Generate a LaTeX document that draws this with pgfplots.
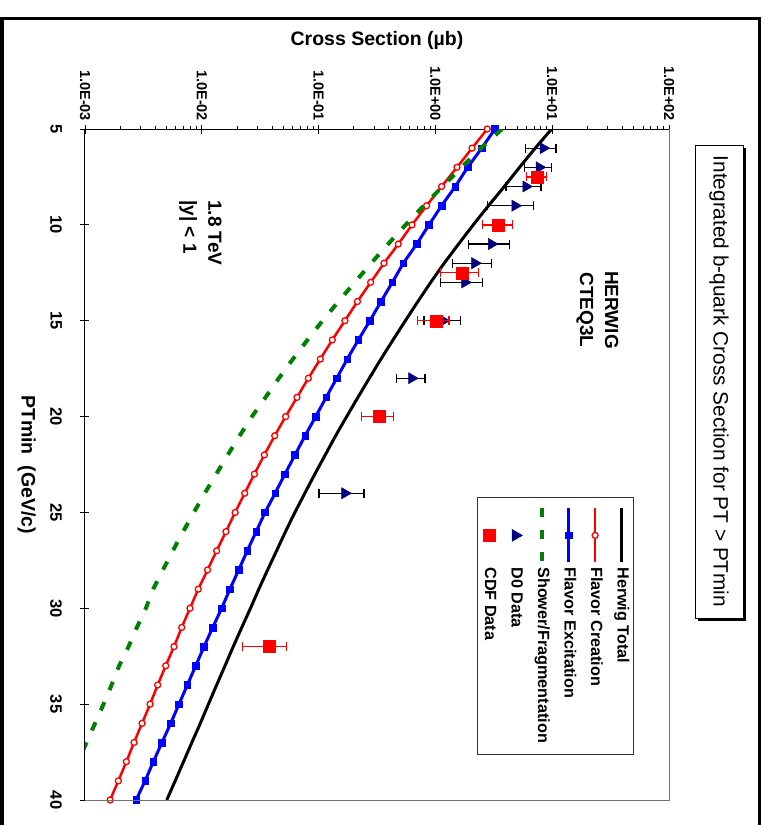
\documentclass[border=0pt]{standalone}
\usepackage{graphicx}
\usepackage{pgfplots}
\pgfplotsset{compat=1.18}
\usepackage{fontspec}
\setmainfont{Liberation Sans}
\definecolor{dzblue}{RGB}{0,0,128}
\definecolor{sfgreen}{RGB}{0,128,0}
\definecolor{fcred}{RGB}{255,0,0}
\definecolor{feblue}{RGB}{0,0,255}

\pgfplotstableread{
x y ep em
6 8.39 2.39 2.46
7 7.76 2.14 1.99
8 5.97 2.05 1.95
9 4.81 2.08 2.01
11 3.03 1.26 1.12
12 2.18 0.85 0.77
13 1.79 0.73 0.68
15 1.17 0.48 0.37
18 0.627 0.188 0.160
24 0.168 0.077 0.067
}\dzero

\pgfplotstableread{
x y ep em
7.5 7.45 1.52 1.40
10 3.48 1.07 0.96
12.5 1.71 0.62 0.60
15 1.01 0.30 0.305
20 0.331 0.105 0.097
32 0.0379 0.0154 0.0157
}\cdf

\begin{document}
\rotatebox{-90}{%
\begin{tikzpicture}[x=1pt,y=1pt]
\useasboundingbox (0,0) rectangle (825,765);
\draw[line width=3.5pt] (830,1.75) -- (18.5,1.75) -- (18.5,759.5) -- (830,759.5);
\fill[black] (147.5,697.5) rectangle (620.5,745.5);
\draw[fill=white, line width=1pt] (145,695) rectangle (618,743);
\node[font=\fontsize{20.8}{20.8}\selectfont, inner sep=0pt] at (381.5,719) {Integrated b-quark Cross Section for PT > PTmin};
\begin{axis}[
  at={(129pt,85pt)}, anchor=south west,
  scale only axis, width=671pt, height=584pt,
  xmin=5, xmax=40, ymode=log, ymin=1e-3, ymax=1e2,
  axis lines*=left,
  axis line style={black, line width=1pt},
  xtick={5,10,15,20,25,30,35,40},
  xticklabels={5,10,15,20,25,30,35,40},
  ytick={1e-3,1e-2,1e-1,1,10,100},
  yticklabels={1.0E-03,1.0E-02,1.0E-01,1.0E+00,1.0E+01,1.0E+02},
  tick align=center,
  major tick length=9pt,
  minor tick length=3.5pt,
  minor y tick style={xshift=-1.75pt},
  tick style={black, line width=0.9pt},
  xticklabel style={font=\fontsize{16.5}{16.5}\selectfont\bfseries, anchor=north, yshift=-15pt},
  yticklabel style={font=\fontsize{14.5}{14.5}\selectfont\bfseries, anchor=east},
  xlabel={PTmin\ \ (GeV/c)},
  ylabel={Cross Section (µb)},
  xlabel style={font=\fontsize{19.5}{19.5}\selectfont\bfseries, at={(axis description cs:0.5,-0.1)}, anchor=center},
  ylabel style={font=\fontsize{19.5}{19.5}\selectfont\bfseries, at={(axis description cs:-0.1326,0.5)}, anchor=center},
  clip mode=individual,
  legend cell align=left,
  legend image code/.code={\draw[mark repeat=2,mark phase=2,#1] plot coordinates {(0pt,0pt) (27pt,0pt) (54pt,0pt)};},
  legend style={at={(0.5484,0.9401)}, anchor=north west, draw=black!80, line width=0.8pt, fill=white,
    inner xsep=9pt, inner ysep=2.5pt, row sep=7.5pt, column sep=1pt,
    font=\fontsize{16.2}{16.2}\selectfont\bfseries,
    nodes={inner sep=2pt, text height=11.5pt, text depth=3.5pt}},
]
\addplot[black, line width=3pt, smooth, tension=0.4] coordinates {
(5,9.89) (6,7.16) (7,5.25) (8,3.89) (9,2.85) (10,2.11) (11,1.58) (12,1.19) (13,0.912) (14,0.708)
(15,0.553) (16,0.434) (17,0.342) (18,0.272) (19,0.217) (20,0.174) (21,0.140) (22,0.114) (23,0.0929) (24,0.0762)
(25,0.0627) (26,0.0521) (27,0.0437) (28,0.0366) (29,0.0308) (30,0.0261) (31,0.0220) (32,0.0186) (33,0.0158) (34,0.0134)
(35,0.0114) (36,0.00971) (37,0.00822) (38,0.00698) (39,0.00592) (40,0.00501)};
\addlegendentry{Herwig Total}
\addplot[fcred, line width=2.5pt, mark=*, mark size=3pt, mark options={fill=white, line width=1.3pt}] coordinates {
(5,2.78) (6,2.06) (7,1.53) (8,1.13) (9,0.841) (10,0.631) (11,0.481) (12,0.363) (13,0.279) (14,0.215)
(15,0.168) (16,0.131) (17,0.1035) (18,0.0817) (19,0.0653) (20,0.0522) (21,0.0421) (22,0.0343) (23,0.0282) (24,0.0233)
(25,0.0193) (26,0.0161) (27,0.0134) (28,0.0112) (29,0.00933) (30,0.00792) (31,0.00673) (32,0.00578) (33,0.00491) (34,0.00419)
(35,0.00361) (36,0.00308) (37,0.00263) (38,0.00226) (39,0.00193) (40,0.00164)};
\addlegendentry{Flavor Creation}
\addplot[feblue, line width=3pt, mark=square*, mark size=3.3pt, mark options={fill=feblue, line width=0.5pt}] coordinates {
(5,3.24) (6,2.49) (7,1.89) (8,1.48) (9,1.13) (10,0.881) (11,0.692) (12,0.531) (13,0.428) (14,0.342)
(15,0.275) (16,0.219) (17,0.176) (18,0.143) (19,0.116) (20,0.0944) (21,0.0766) (22,0.0628) (23,0.0515) (24,0.0424)
(25,0.0348) (26,0.0292) (27,0.0245) (28,0.0207) (29,0.0174) (30,0.0148) (31,0.0124) (32,0.01045) (33,0.00887) (34,0.00752)
(35,0.00638) (36,0.00542) (37,0.00456) (38,0.00385) (39,0.00327) (40,0.00274)};
\addlegendentry{Flavor Excitation}
\addplot[sfgreen, line width=4pt, dash pattern=on 9pt off 13pt] coordinates {
(5,3.72) (6,2.45) (7,1.68) (8,1.15) (9,0.794) (10,0.556) (11,0.394) (12,0.282) (13,0.204) (14,0.148)
(15,0.108) (16,0.0804) (17,0.0603) (18,0.0457) (19,0.0351) (20,0.0269) (21,0.0211) (22,0.0167) (23,0.0133) (24,0.0106)
(25,0.00855) (26,0.00693) (27,0.00565) (28,0.00465) (29,0.00384) (30,0.00332) (31,0.00278) (32,0.00236) (33,0.00196) (34,0.00169)
(35,0.00144) (36,0.00122) (37,0.00103) (38,0.00087) (39,0.00074) (40,0.00063)};
\addlegendentry{Shower/Fragmentation}
\addplot[only marks, mark=triangle*, mark size=6.5pt, color=dzblue, mark options={fill=dzblue},
  error bars/.cd, y dir=both, y explicit,
  error bar style={black, line width=1.3pt},
  error mark options={black, line width=1.3pt, mark size=4.5pt, rotate=90}]
  table[x=x, y=y, y error plus=ep, y error minus=em] {\dzero};
\addlegendentry{D0 Data}
\addplot[only marks, mark=square*, mark size=6pt, color=fcred, mark options={fill=fcred},
  error bars/.cd, y dir=both, y explicit,
  error bar style={fcred, line width=1.3pt},
  error mark options={fcred, line width=1.3pt, mark size=4.5pt, rotate=90}]
  table[x=x, y=y, y error plus=ep, y error minus=em] {\cdf};
\addlegendentry{CDF Data}
\draw[black!55, line width=0.8pt] (rel axis cs:0,1) -- (rel axis cs:1,1) -- (rel axis cs:1,0);
\end{axis}
\node[font=\fontsize{19}{25}\selectfont\bfseries, align=center, inner sep=0pt] at (310,597.5) {HERWIG\\CTEQ3L};
\node[font=\fontsize{19}{25}\selectfont\bfseries, align=left, inner sep=0pt, anchor=west] at (200,200.5) {1.8 TeV\\|y| < 1};
\end{tikzpicture}}
\end{document}
